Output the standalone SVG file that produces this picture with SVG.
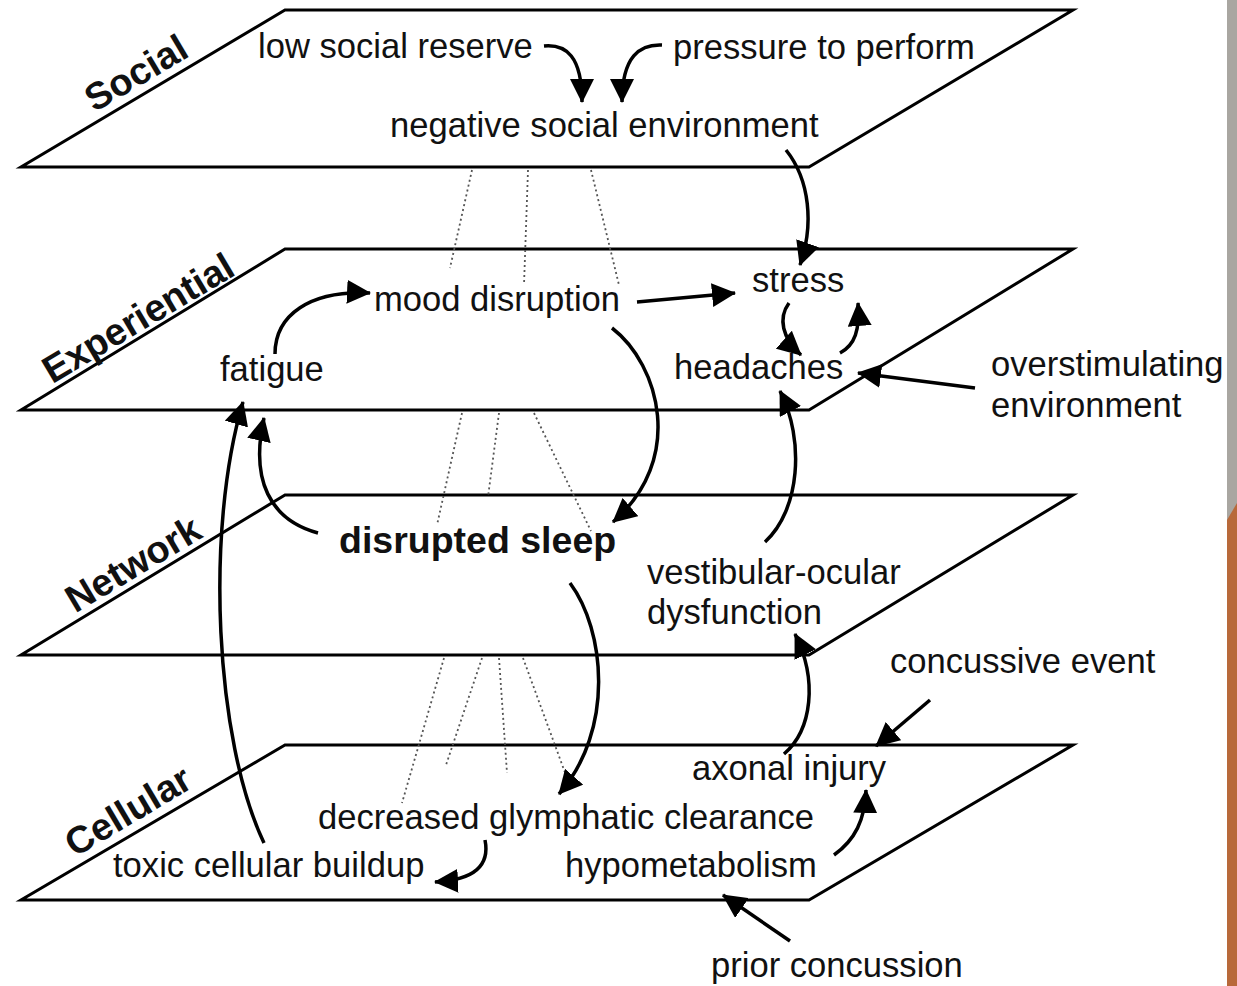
<svg xmlns="http://www.w3.org/2000/svg" width="1237" height="986" viewBox="0 0 1237 986">
<defs>
<marker id="ah" viewBox="0 0 24 24" refX="23" refY="12" markerWidth="24" markerHeight="24" markerUnits="userSpaceOnUse" orient="auto">
<path d="M0,0 L24,12 L0,24 Z" fill="#000"/>
</marker>
<style>
.plane{fill:none;stroke:#000;stroke-width:3;stroke-linejoin:miter}
.dot{fill:none;stroke:#555;stroke-width:1.8;stroke-dasharray:2 3}
.arr{fill:none;stroke:#000;stroke-width:3.5;marker-end:url(#ah)}
.t{font-family:"Liberation Sans",Arial,sans-serif;font-size:34.6px;fill:#111}
.b{font-family:"Liberation Sans",Arial,sans-serif;font-size:37.5px;font-weight:bold;fill:#111}
.lab{font-family:"Liberation Sans",Arial,sans-serif;font-size:38px;font-weight:bold;fill:#111;text-anchor:middle}
</style>
</defs>
<rect width="1237" height="986" fill="#fff"/>
<rect x="1227" y="0" width="10" height="986" fill="#a9a6a1"/>
<polygon points="1227,520 1237,503 1237,986 1227,986" fill="#b8693a"/>

<g id="planes">
<g id="plane-social"><polygon class="plane" points="285,10 1073,10 809,167 21,167"/>
<text class="lab" transform="translate(136,73) rotate(-30.8)" y="13">Social</text></g>
<g id="plane-experiential"><polygon class="plane" points="285,249 1073,249 809,410 21,410"/>
<text class="lab" transform="translate(138,318) rotate(-30.8)" y="13">Experiential</text></g>
<g id="plane-network"><polygon class="plane" points="285,495 1073,495 809,655 21,655"/>
<text class="lab" transform="translate(133,564) rotate(-30.8)" y="13">Network</text></g>
<g id="plane-cellular"><polygon class="plane" points="285,745 1073,745 809,900 21,900"/>
<text class="lab" transform="translate(128,811) rotate(-30.8)" y="13">Cellular</text></g>
</g>

<g id="dotted">
<line class="dot" x1="472" y1="170" x2="450" y2="268"/>
<line class="dot" x1="528" y1="170" x2="524" y2="285"/>
<line class="dot" x1="591" y1="170" x2="619" y2="285"/>
<line class="dot" x1="462" y1="413" x2="437" y2="525"/>
<line class="dot" x1="499" y1="413" x2="488" y2="497"/>
<line class="dot" x1="534" y1="413" x2="591" y2="531"/>
<line class="dot" x1="444" y1="658" x2="402" y2="803"/>
<line class="dot" x1="482" y1="658" x2="446" y2="765"/>
<line class="dot" x1="499" y1="658" x2="507" y2="773"/>
<line class="dot" x1="523" y1="658" x2="567" y2="778"/>
</g>

<g id="n-low-social-reserve"><text class="t" x="258" y="58">low social reserve</text></g>
<g id="n-pressure"><text class="t" x="673" y="59">pressure to perform</text></g>
<g id="n-negative-social"><text class="t" x="390" y="137">negative social environment</text></g>
<g id="n-mood"><text class="t" x="374" y="311">mood disruption</text></g>
<g id="n-stress"><text class="t" x="752" y="292">stress</text></g>
<g id="n-fatigue"><text class="t" x="220" y="381">fatigue</text></g>
<g id="n-headaches"><text class="t" x="674" y="379">headaches</text></g>
<g id="n-overstim"><text class="t" x="991" y="376">overstimulating</text><text class="t" x="991" y="417">environment</text></g>
<g id="n-sleep"><text class="b" x="339" y="553">disrupted sleep</text></g>
<g id="n-vestibular"><text class="t" x="647" y="584">vestibular-ocular</text><text class="t" x="647" y="624">dysfunction</text></g>
<g id="n-concussive"><text class="t" x="890" y="673">concussive event</text></g>
<g id="n-axonal"><text class="t" x="692" y="780">axonal injury</text></g>
<g id="n-glymphatic"><text class="t" x="318" y="829">decreased glymphatic clearance</text></g>
<g id="n-toxic"><text class="t" x="113" y="877">toxic cellular buildup</text></g>
<g id="n-hypo"><text class="t" x="565" y="877">hypometabolism</text></g>
<g id="n-prior"><text class="t" x="711" y="977">prior concussion</text></g>

<g id="connectors">
<path class="arr" d="M544,46 C566,44 582,56 582,102"/>
<path class="arr" d="M662,45 C640,44 622,56 622,102"/>
<path class="arr" d="M786,150 C810,180 814,225 800,265"/>
<path class="arr" d="M637,302 L735,293"/>
<path class="arr" d="M789,303 C778,318 782,338 801,355"/>
<path class="arr" d="M840,353 C855,345 860,330 858,303"/>
<path class="arr" d="M975,388 L858,373"/>
<path class="arr" d="M275,354 C275,315 310,290 370,293"/>
<path class="arr" d="M612,328 C660,365 685,460 613,522"/>
<path class="arr" d="M318,533 C270,520 250,480 264,418"/>
<path class="arr" d="M264,843 C215,740 205,530 243,402"/>
<path class="arr" d="M570,583 C605,630 615,730 559,794"/>
<path class="arr" d="M485,840 C490,865 475,880 435,882"/>
<path class="arr" d="M765,542 C800,510 805,440 780,391"/>
<path class="arr" d="M784,754 C812,730 818,680 795,634"/>
<path class="arr" d="M930,700 L876,746"/>
<path class="arr" d="M834,855 C855,840 865,820 866,790"/>
<path class="arr" d="M790,941 L723,895"/>
</g>
</svg>
